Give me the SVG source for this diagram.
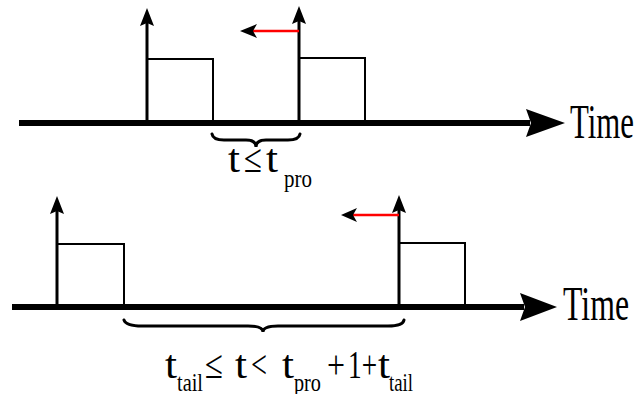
<svg xmlns="http://www.w3.org/2000/svg" width="637" height="394" viewBox="0 0 637 394">
<style>
.axis{stroke:#000;stroke-width:6;fill:none}
.up{stroke:#000;stroke-width:3;fill:none}
.pulse{stroke:#000;stroke-width:2;fill:none}
.red{stroke:#ff0000;stroke-width:2.5;fill:none}
.brace{stroke:#000;stroke-width:3;fill:none;stroke-linecap:round}
.head{fill:#000}
text{font-family:"Liberation Serif","Times New Roman",serif;fill:#000}
.big{font-size:40px}
.sub{font-size:26px}
.time{font-size:48px}
</style>
<rect width="637" height="394" fill="#fff"/>
<g id="axis-top">
<line class="axis" x1="19" y1="123" x2="530" y2="123"/>
<polygon class="head" points="526,109 565,123 526,137 531,123"/>
<text class="time" x="570" y="138" textLength="64" lengthAdjust="spacingAndGlyphs">Time</text>
</g>
<g id="pulse-top-1">
<line class="up" x1="147" y1="124" x2="147" y2="20"/>
<polygon class="head" points="140,26 147,8 154,26 147,23"/>
<polyline class="pulse" points="147,59 213,59 213,123"/>
</g>
<g id="pulse-top-2">
<line class="up" x1="299" y1="124" x2="299" y2="18"/>
<polygon class="head" points="292,24 299,6 306,24 299,21"/>
<polyline class="pulse" points="299,58 365,58 365,123"/>
</g>
<g id="shift-top">
<line class="red" x1="253" y1="31" x2="299" y2="31"/>
<polygon class="head" points="240,31 257,24 253,31 257,38"/>
</g>
<g id="brace-top">
<path class="brace" d="M212,134 Q213,140 224,140 L246,140 Q256,140 256,147 Q256,140 266,140 L288,140 Q299,140 300,134"/>
<text class="big" x="228" y="172" textLength="12" lengthAdjust="spacingAndGlyphs">t</text>
<text class="big" x="244" y="172" textLength="18" lengthAdjust="spacingAndGlyphs">≤</text>
<text class="big" x="266" y="172" textLength="12" lengthAdjust="spacingAndGlyphs">t</text>
<text class="sub" x="284" y="187" textLength="28" lengthAdjust="spacingAndGlyphs">pro</text>
</g>
<g id="axis-bottom">
<line class="axis" x1="12" y1="307" x2="524" y2="307"/>
<polygon class="head" points="520,293 557,307 520,321 525,307"/>
<text class="time" x="563" y="320" textLength="66" lengthAdjust="spacingAndGlyphs">Time</text>
</g>
<g id="pulse-bottom-1">
<line class="up" x1="57" y1="308" x2="57" y2="208"/>
<polygon class="head" points="50,214 57,196 64,214 57,211"/>
<polyline class="pulse" points="57,244 124,244 124,307"/>
</g>
<g id="pulse-bottom-2">
<line class="up" x1="399" y1="308" x2="399" y2="207"/>
<polygon class="head" points="392,213 399,195 406,213 399,210"/>
<polyline class="pulse" points="399,243 465,243 465,307"/>
</g>
<g id="shift-bottom">
<line class="red" x1="353" y1="215" x2="399" y2="215"/>
<polygon class="head" points="341,215 357,208 353,215 357,222"/>
</g>
<g id="brace-bottom">
<path class="brace" d="M124,320 Q126,326 142,326 L248,326 Q263,326 263,332 Q263,326 278,326 L388,326 Q403,326 404,320"/>
<text class="big" x="165" y="378" textLength="12" lengthAdjust="spacingAndGlyphs">t</text>
<text class="sub" x="177" y="391" textLength="26" lengthAdjust="spacingAndGlyphs">tail</text>
<text class="big" x="205" y="378" textLength="18" lengthAdjust="spacingAndGlyphs">≤</text>
<text class="big" x="235" y="378" textLength="12" lengthAdjust="spacingAndGlyphs">t</text>
<text class="big" x="251" y="378" textLength="16" lengthAdjust="spacingAndGlyphs">&lt;</text>
<text class="big" x="282" y="378" textLength="12" lengthAdjust="spacingAndGlyphs">t</text>
<text class="sub" x="294" y="391" textLength="27" lengthAdjust="spacingAndGlyphs">pro</text>
<text class="big" x="327" y="378" textLength="18" lengthAdjust="spacingAndGlyphs">+</text>
<text class="big" x="348" y="378" textLength="29" lengthAdjust="spacingAndGlyphs">1+</text>
<text class="big" x="378" y="378" textLength="12" lengthAdjust="spacingAndGlyphs">t</text>
<text class="sub" x="389" y="391" textLength="24" lengthAdjust="spacingAndGlyphs">tail</text>
</g>
</svg>
